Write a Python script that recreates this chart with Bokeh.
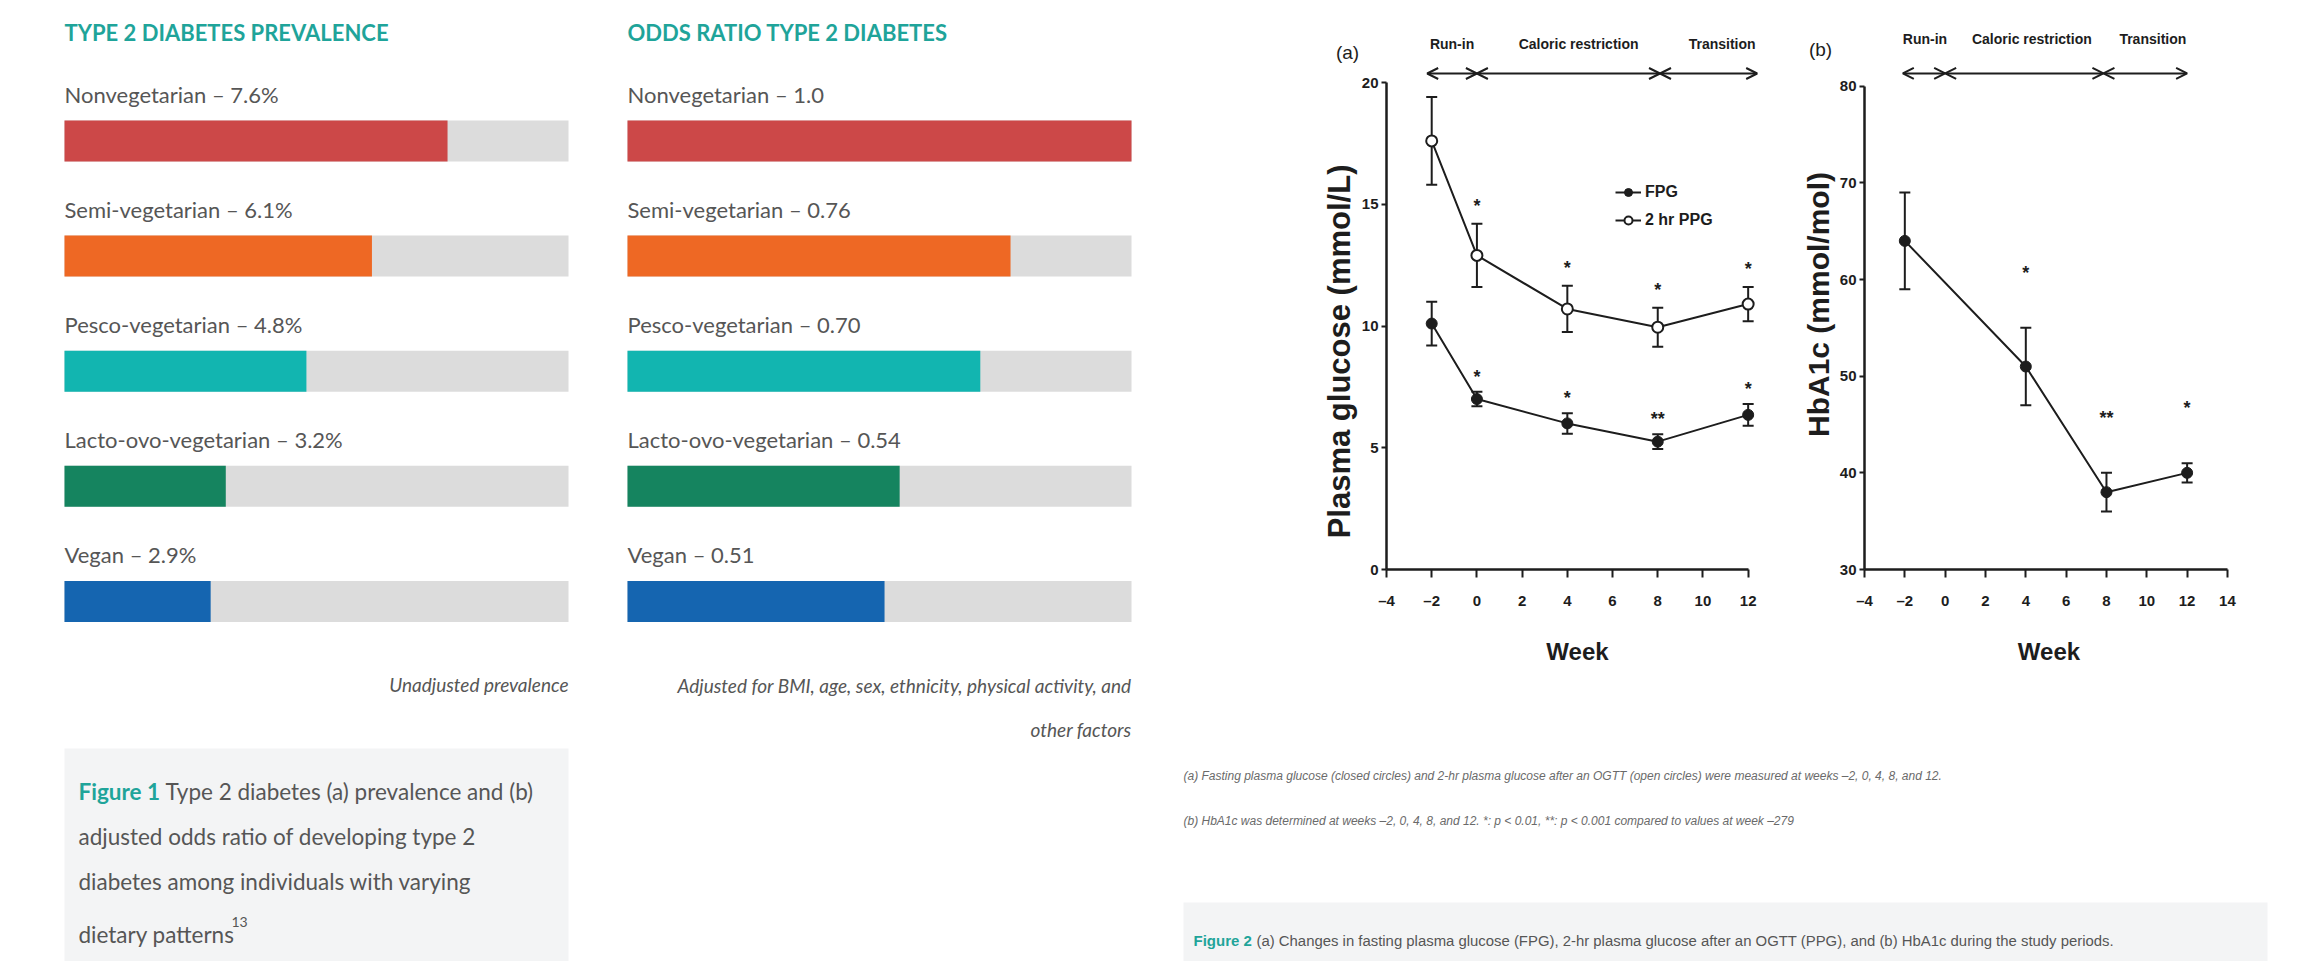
from bokeh.plotting import figure
from bokeh.models import (Range1d, Label, BoxAnnotation, ColumnDataSource, Whisker,
                          TeeHead, Arrow, OpenHead, FixedTicker, Legend, LegendItem)
from bokeh.layouts import row, column
from bokeh.embed import file_html
from bokeh.resources import INLINE
from bokeh.core.properties import value

# ---------------- data ----------------
diets = ["Nonvegetarian", "Semi-vegetarian", "Pesco-vegetarian",
         "Lacto-ovo-vegetarian", "Vegan"]
prevalence = [7.6, 6.1, 4.8, 3.2, 2.9]
prevalence_txt = ["7.6%", "6.1%", "4.8%", "3.2%", "2.9%"]
odds_ratio = [1.0, 0.76, 0.70, 0.54, 0.51]
odds_txt = ["1.0", "0.76", "0.70", "0.54", "0.51"]
diet_colors = ["#cc4848", "#ee6824", "#12b5b0", "#15845f", "#1565b0"]
prevalence_max = 10.0
odds_max = 1.0

weeks = [-2, 0, 4, 8, 12]
fpg = [10.1, 7.0, 6.0, 5.25, 6.35]
fpg_err = [0.9, 0.3, 0.42, 0.3, 0.45]
fpg_sig = ["", "*", "*", "**", "*"]
ppg = [17.6, 12.9, 10.7, 9.95, 10.9]
ppg_err = [1.8, 1.3, 0.95, 0.8, 0.7]
ppg_sig = ["", "*", "*", "*", "*"]

hba_weeks = [-2, 4, 8, 12]
hba1c = [64.0, 51.0, 38.0, 40.0]
hba1c_err = [5.0, 4.0, 2.0, 1.0]
hba1c_sig = ["", "*", "**", "*"]

phases = ["Run-in", "Caloric restriction", "Transition"]
phase_bounds_a = [-2.2, 0, 8.1, 12.4]
phase_label_x_a = [-1.1, 4.5, 10.85]
phase_bounds_b = [-2.1, 0, 7.85, 12.0]
phase_label_x_b = [-1.0, 4.3, 10.3]

# ---------------- styles ----------------
TEAL = "#1fa49a"
GREY_TXT = "#565656"
BG_BAR = "#dcdcdc"
CAPTION_BG = "#f3f4f5"
INK = "#1d1d1d"
SANS = "Lato"
ARIAL = "Liberation Sans"
NBSP = "\u00a0"

H = 961
ROW0 = 140.5
ROW_PX = 115.1
BAR_PX = 504
BAR_H = 41


def bar_panel(width, bar_left, vmax, values, value_txt, title, notes, note_right):
    ppu = BAR_PX / vmax
    p = figure(width=width, height=H, output_backend="svg", toolbar_location=None,
               x_range=Range1d(-bar_left / ppu, (width - bar_left) / ppu),
               y_range=Range1d((H - ROW0) / ROW_PX, -ROW0 / ROW_PX),
               x_axis_location=None, y_axis_location=None, min_border=0)
    p.grid.visible = False
    p.outline_line_color = None
    xd = lambda px: (px - bar_left) / ppu
    yd = lambda py: (py - ROW0) / ROW_PX
    rows = list(range(len(values)))
    src = ColumnDataSource(dict(
        row=rows, value=values, full=[vmax] * len(values), color=diet_colors,
        label=[f"{d} \u2013 {t}" for d, t in zip(diets, value_txt)],
        label_y=[r - 46.5 / ROW_PX for r in rows]))
    p.hbar(y="row", left=0, right="full", height=BAR_H / ROW_PX, source=src,
           fill_color=BG_BAR, line_color=None)
    p.hbar(y="row", left=0, right="value", height=BAR_H / ROW_PX, source=src,
           fill_color="color", line_color=None)
    p.text(x=0, y="label_y", text="label", source=src, text_font=value(SANS),
           text_font_size="22px", text_color=GREY_TXT, text_baseline="middle",
           text_align="left")
    p.add_layout(Label(x=0, y=yd(32), text=title, text_font=SANS,
                       text_font_style="bold", text_font_size="22px",
                       text_color=TEAL, text_baseline="middle"))
    for txt, py in notes:
        p.add_layout(Label(x=xd(note_right), y=yd(py), text=txt, text_font=SANS,
                           text_font_style="italic", text_font_size="19px",
                           text_color=GREY_TXT, text_align="right",
                           text_baseline="middle"))
    return p, xd, yd


# ---- Figure 1 left panel ----
p1, xd1, yd1 = bar_panel(604, 64, prevalence_max, prevalence, prevalence_txt,
                         "TYPE 2 DIABETES PREVALENCE",
                         [("Unadjusted prevalence", 684)], 568)
p1.add_layout(BoxAnnotation(left=xd1(64), right=xd1(568), top=yd1(748), bottom=yd1(975),
                            fill_color=CAPTION_BG, fill_alpha=1, line_color=None,
                            level="underlay"))
cap_style = dict(text_font=SANS, text_font_size="22.5px", text_color=GREY_TXT,
                 text_baseline="middle")
p1.add_layout(Label(x=xd1(78), y=yd1(791), text="Figure 1", text_font=SANS,
                    text_font_size="22.5px", text_font_style="bold", text_color=TEAL,
                    text_baseline="middle"))
p1.add_layout(Label(x=xd1(165), y=yd1(791),
                    text="Type 2 diabetes (a) prevalence and (b)", **cap_style))
p1.add_layout(Label(x=xd1(78), y=yd1(836),
                    text="adjusted odds ratio of developing type 2", **cap_style))
p1.add_layout(Label(x=xd1(78), y=yd1(881),
                    text="diabetes among individuals with varying", **cap_style))
p1.add_layout(Label(x=xd1(78), y=yd1(934), text="dietary patterns", **cap_style))
p1.add_layout(Label(x=xd1(231), y=yd1(921), text="13", text_font=SANS,
                    text_font_size="14px", text_color=GREY_TXT, text_baseline="middle"))

# ---- Figure 1 right panel ----
p2, xd2, yd2 = bar_panel(554, 23, odds_max, odds_ratio, odds_txt,
                         "ODDS RATIO TYPE 2 DIABETES",
                         [("Adjusted for BMI, age, sex, ethnicity, physical activity, and", 685),
                          ("other factors", 729)], 527)


# ---------------- Figure 2 ----------------
HEAD_H = 64
PLOT_H = 700 - HEAD_H


def style_axes(p, xticks, xbounds, yticks, ybounds, ylabel, ylabel_size):
    for ax in (p.xaxis[0], p.yaxis[0]):
        ax.axis_line_width = 2.5
        ax.axis_line_color = INK
        ax.major_tick_line_width = 2
        ax.major_tick_line_color = INK
        ax.major_tick_in = 0
        ax.minor_tick_line_color = None
        ax.major_label_text_font = ARIAL
        ax.major_label_text_font_style = "bold"
        ax.major_label_text_font_size = "15px"
        ax.major_label_text_color = INK
        ax.axis_label_text_color = INK
        ax.axis_label_text_font_style = "bold"
    xa, ya = p.xaxis[0], p.yaxis[0]
    xa.ticker = FixedTicker(ticks=xticks)
    xa.bounds = xbounds
    xa.major_tick_out = 8
    xa.major_label_standoff = 14
    xa.major_label_overrides = {t: f"\u2013{abs(t)}" for t in xticks if t < 0}
    xa.axis_label = "Week"
    xa.axis_label_text_font = ARIAL
    xa.axis_label_text_font_size = "24px"
    xa.axis_label_standoff = 26
    ya.ticker = FixedTicker(ticks=yticks)
    ya.bounds = ybounds
    ya.major_tick_out = 5
    ya.major_label_standoff = 3
    ya.axis_label = ylabel
    ya.axis_label_text_font = ARIAL
    ya.axis_label_text_font_size = ylabel_size
    ya.axis_label_standoff = 2


def new_plot(width, left, right, bottom, xr, yr):
    p = figure(width=width, height=PLOT_H, output_backend="svg", toolbar_location=None,
               x_range=Range1d(*xr), y_range=Range1d(*yr), min_border_left=left,
               min_border_right=right, min_border_top=0, min_border_bottom=bottom)
    p.grid.visible = False
    p.outline_line_color = None
    return p


def header(width, left, right, xr, tag, tag_x, tag_y, label_x, label_y):
    ppx = (width - left - right) / (xr[1] - xr[0])
    h = figure(width=width, height=HEAD_H, output_backend="svg", toolbar_location=None,
               x_range=Range1d(xr[0] - left / ppx, xr[1] + right / ppx),
               y_range=Range1d(HEAD_H, 0), x_axis_location=None, y_axis_location=None,
               min_border=0)
    h.grid.visible = False
    h.outline_line_color = None
    h.add_layout(Label(x=xr[0] - tag_x / ppx, y=tag_y, text=tag, text_font=ARIAL,
                       text_font_size="19px", text_color=INK, text_baseline="middle",
                       text_align="center"))
    for name, lx in zip(phases, label_x):
        h.add_layout(Label(x=lx, y=label_y, text=name, text_font=ARIAL,
                           text_font_style="bold", text_font_size="14px",
                           text_color=INK, text_align="center", text_baseline="middle"))
    return h


def phase_arrows(p, bounds, y_arrow):
    for i in range(len(phases)):
        p.add_layout(Arrow(x_start=bounds[i], x_end=bounds[i + 1], y_start=y_arrow,
                           y_end=y_arrow, line_color=INK, line_width=2,
                           start=OpenHead(size=11, line_width=2, line_color=INK),
                           end=OpenHead(size=11, line_width=2, line_color=INK)))


def whiskers(p, x, y, err):
    src = ColumnDataSource(dict(x=x, lo=[a - b for a, b in zip(y, err)],
                                hi=[a + b for a, b in zip(y, err)]))
    w = Whisker(base="x", lower="lo", upper="hi", source=src, dimension="height",
                line_color=INK, line_width=2, level="underlay",
                lower_head=TeeHead(size=11, line_width=2, line_color=INK),
                upper_head=TeeHead(size=11, line_width=2, line_color=INK))
    p.add_layout(w)


def sig_text(p, x, y, err, sig, gap_units):
    p.text(x=x, y=[a + b + gap_units for a, b in zip(y, err)], text=sig,
           text_font=value(ARIAL), text_font_style="bold", text_font_size="18px",
           text_color=INK, text_align="center", text_baseline="middle")


# (a) plasma glucose
A_W, A_L, A_R, A_B = 632, 228, 22, 131
ax_range = (-4, 12.9)
ppu_a = 24.35
pa = new_plot(A_W, A_L, A_R, A_B, ax_range, (0, (PLOT_H - A_B) / ppu_a))
style_axes(pa, list(range(-4, 13, 2)), (-4, 12), [0, 5, 10, 15, 20], (0, 20),
           "Plasma glucose (mmol/L)" + NBSP * 8, "31px")
whiskers(pa, weeks, ppg, ppg_err)
whiskers(pa, weeks, fpg, fpg_err)
ppg_line = pa.line(weeks, ppg, line_color=INK, line_width=2)
ppg_pts = pa.scatter(weeks, ppg, size=11, fill_color="white", line_color=INK, line_width=2)
fpg_line = pa.line(weeks, fpg, line_color=INK, line_width=2)
fpg_pts = pa.scatter(weeks, fpg, size=11, fill_color=INK, line_color=INK, line_width=1)
sig_text(pa, weeks, ppg, ppg_err, ppg_sig, 18 / ppu_a)
sig_text(pa, weeks, fpg, fpg_err, fpg_sig, 15 / ppu_a)
phase_arrows(pa, phase_bounds_a, 20 + 9 / ppu_a)
leg = Legend(items=[LegendItem(label="FPG", renderers=[fpg_line, fpg_pts]),
                    LegendItem(label="2 hr PPG", renderers=[ppg_line, ppg_pts])],
             location=(229, 339), background_fill_alpha=0, border_line_color=None,
             padding=0, margin=0, glyph_width=26, glyph_height=20, label_height=20,
             spacing=8, label_standoff=4, label_text_font=ARIAL,
             label_text_font_style="bold", label_text_font_size="16px",
             label_text_color=INK)
pa.add_layout(leg)
ha = header(A_W, A_L, A_R, ax_range, "(a)", 39, 52, phase_label_x_a, 43)

# (b) HbA1c
B_W, B_L, B_R, B_B = 503, 74, 60, 125
bx_range = (-4, 14.3)
ppu_b = 9.78
pb = new_plot(B_W, B_L, B_R, B_B, bx_range, (30, 30 + (PLOT_H - B_B) / ppu_b))
style_axes(pb, list(range(-4, 15, 2)), (-4, 14), [30, 40, 50, 60, 70, 80], (30, 80),
           NBSP * 3 + "HbA1c (mmol/mol)", "30px")
whiskers(pb, hba_weeks, hba1c, hba1c_err)
pb.line(hba_weeks, hba1c, line_color=INK, line_width=2)
pb.scatter(hba_weeks, hba1c, size=11, fill_color=INK, line_color=INK)
sig_text(pb, hba_weeks, hba1c, hba1c_err, hba1c_sig, 56 / ppu_b)
phase_arrows(pb, phase_bounds_b, 80 + 13 / ppu_b)
hb = header(B_W, B_L, B_R, bx_range, "(b)", 44, 49, phase_label_x_b, 38)

# notes + caption for figure 2
pn = figure(width=1135, height=261, output_backend="svg", toolbar_location=None,
            x_range=Range1d(0, 1135), y_range=Range1d(261, 0),
            x_axis_location=None, y_axis_location=None, min_border=0)
pn.grid.visible = False
pn.outline_line_color = None
note_style = dict(text_font=ARIAL, text_font_style="italic", text_font_size="12px",
                  text_color="#6a6a6a", text_baseline="middle")
pn.add_layout(Label(x=25, y=75, text="(a) Fasting plasma glucose (closed circles) and 2-hr plasma glucose after an OGTT (open circles) were measured at weeks \u20132, 0, 4, 8, and 12.", **note_style))
pn.add_layout(Label(x=25, y=120, text="(b) HbA1c was determined at weeks \u20132, 0, 4, 8, and 12. *: p < 0.01, **: p < 0.001 compared to values at week \u2013279", **note_style))
pn.add_layout(BoxAnnotation(left=25, right=1109, top=202, bottom=270,
                            fill_color=CAPTION_BG, fill_alpha=1, line_color=None,
                            level="underlay"))
pn.add_layout(Label(x=35, y=240, text="Figure 2", text_font=ARIAL, text_font_style="bold",
                    text_font_size="15px", text_color=TEAL, text_baseline="middle"))
pn.add_layout(Label(x=98, y=240, text="(a) Changes in fasting plasma glucose (FPG), 2-hr plasma glucose after an OGTT (PPG), and (b) HbA1c during the study periods.",
                    text_font=ARIAL, text_font_size="14.9px", text_color=GREY_TXT,
                    text_baseline="middle"))

layout = row(p1, p2, column(row(ha, hb), row(pa, pb), pn))
open("out.html", "w").write(file_html(layout, INLINE))
